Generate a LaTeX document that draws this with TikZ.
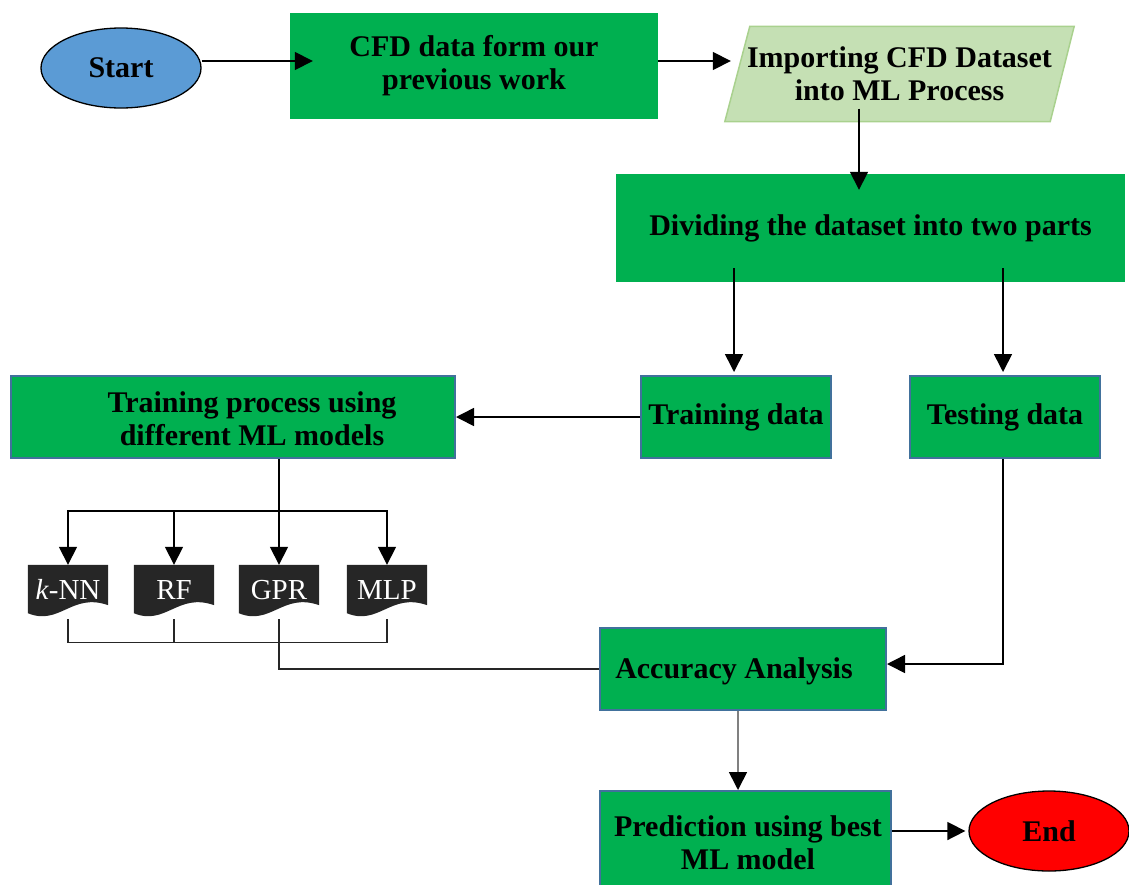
\documentclass[tikz,border=0pt]{standalone}
\usepackage{fontspec}
\setmainfont{Liberation Serif}
\usetikzlibrary{shapes.geometric,arrows.meta,calc}
\pgfdeclarelayer{background}
\pgfsetlayers{background,main}
\definecolor{boxgreen}{HTML}{00B050}
\definecolor{boxedge}{HTML}{41719C}
\definecolor{paragreen}{HTML}{C5E0B4}
\definecolor{paraedge}{HTML}{A9D18E}
\definecolor{startblue}{HTML}{5B9BD5}
\definecolor{docdark}{HTML}{262626}
\definecolor{linegray}{HTML}{808080}
\begin{document}
\begin{tikzpicture}[x=1pt,y=-1pt,
  every node/.style={font=\fontsize{30}{33}\selectfont\bfseries, align=center, inner sep=0pt},
  flatbox/.style={rectangle, fill=boxgreen},
  framedbox/.style={rectangle, fill=boxgreen, draw=boxedge, line width=2pt},
  terminal/.style={ellipse, draw=black, line width=1.3pt, minimum width=160pt, minimum height=80pt},
  docnode/.style={rectangle, minimum width=80pt, minimum height=40pt, text=white,
    font=\fontsize{29}{30}\selectfont, text height=28pt, text depth=0pt},
  arr/.style={line width=1.6pt, -{Triangle[length=18pt,width=18pt]}},
  grayarr/.style={line width=1.6pt, draw=linegray, -{Triangle[length=18pt,width=18pt,color=black]}},
  link/.style={line width=1.6pt},
  wire/.style={line width=1.1pt, draw=black!85}]
\useasboundingbox (0,0) rectangle (1129,884);

% top row
\node[terminal, fill=startblue] (start) at (121,68) {Start};
\node[flatbox, minimum width=368pt, minimum height=106pt] (cfd) at (474,66) {CFD data form our\\previous work};
\node[minimum width=349pt, minimum height=95pt] (imp) at (899.5,74) {Importing CFD Dataset\\into ML Process};

% splitting the data
\node[flatbox, minimum width=509pt, minimum height=108pt] (div) at (870.5,228) {Dividing the dataset into two parts};
\node[framedbox, minimum width=190pt, minimum height=82pt] (trd) at (736,417) {Training data};
\node[framedbox, minimum width=190pt, minimum height=82pt] (tsd) at (1005,417) {Testing data};
\node[framedbox, minimum width=444pt, minimum height=82pt] (tp) at (233,417) {};
\node (tptext) at (252,419) {Training process using\\different ML models};

% model documents
\node[docnode] (knn) at (68,585) {\textit{k}-NN};
\node[docnode] (rf) at (174,585) {RF};
\node[docnode] (gpr) at (279,585) {GPR};
\node[docnode] (mlp) at (387,585) {MLP};

% evaluation and result
\node[framedbox, minimum width=286pt, minimum height=82pt] (acc) at (743,669) {};
\node (acctext) at (734,671) {Accuracy Analysis};
\node[framedbox, minimum width=291pt, minimum height=96pt] (pred) at (745.5,839) {};
\node (predtext) at (748,843) {Prediction using best\\ML model};
\node[terminal, fill=red] (end) at (1049,831) {End};

% shapes behind the text
\begin{pgfonlayer}{background}
  \fill[paragreen, draw=paraedge, line width=1.5pt]
    ($(imp.north west)+(25,0)$) -- (imp.north east) -- ($(imp.south east)+(-24,0)$) -- (imp.south west) -- cycle;
  \foreach \d in {knn,rf,gpr,mlp}{
    \fill[docdark] (\d.north west) -- (\d.north east) -- (\d.south east)
      .. controls ($(\d.south west)+(44,-13)$) and ($(\d.south west)+(32,21)$) .. ($(\d.south west)+(0,8)$) -- cycle;
  }
\end{pgfonlayer}

% main flow
\draw[arr, shorten >=-23pt] ([yshift=7pt]start.east) -- ([yshift=7pt]start.east -| cfd.west);
\draw[arr, shorten >=-6pt] ([yshift=5pt]cfd.east) -- ([yshift=5pt]cfd.east -| imp.west);
\draw[arr, shorten <=-13pt, shorten >=-16pt] ([xshift=-40.5pt]imp.south) -- ([xshift=-40.5pt]imp.south |- div.north);
\draw[arr, shorten <=-14pt, shorten >=3pt] ([xshift=-2pt]div.south -| trd.north) -- ([xshift=-2pt]trd.north);
\draw[arr, shorten <=-14pt, shorten >=3pt] ([xshift=-2pt]div.south -| tsd.north) -- ([xshift=-2pt]tsd.north);
\draw[arr] (trd.west) -- (tp.east);

% fan-out to the models
\coordinate (split) at ($(gpr.north)+(0,-54)$);
\draw[link] (tp.south -| split) -- (split);
\draw[arr] (split) -- (gpr.north);
\draw[arr] (split) -| (knn.north);
\draw[arr] (split) -| (mlp.north);
\draw[arr] (split -| rf.north) -- (rf.north);

% fan-in to the accuracy analysis
\coordinate (merge) at ($(knn.south)+(0,37)$);
\draw[wire] ([yshift=-14pt]knn.south) -- (knn.south |- merge) -- (mlp.south |- merge) -- ([yshift=-14pt]mlp.south);
\draw[wire] ([yshift=-14pt]rf.south) -- (rf.south |- merge);
\draw[wire] ([yshift=-14pt]gpr.south) |- (acc.west);
\draw[arr] ([xshift=-2pt]tsd.south) |- ([yshift=5pt]acc.east);

% result
\draw[grayarr] ([xshift=-5pt]acc.south) -- ([xshift=-5pt]acc.south |- pred.north);
\draw[arr, shorten >=3pt] (pred.east |- end.west) -- (end.west);
\end{tikzpicture}
\end{document}
